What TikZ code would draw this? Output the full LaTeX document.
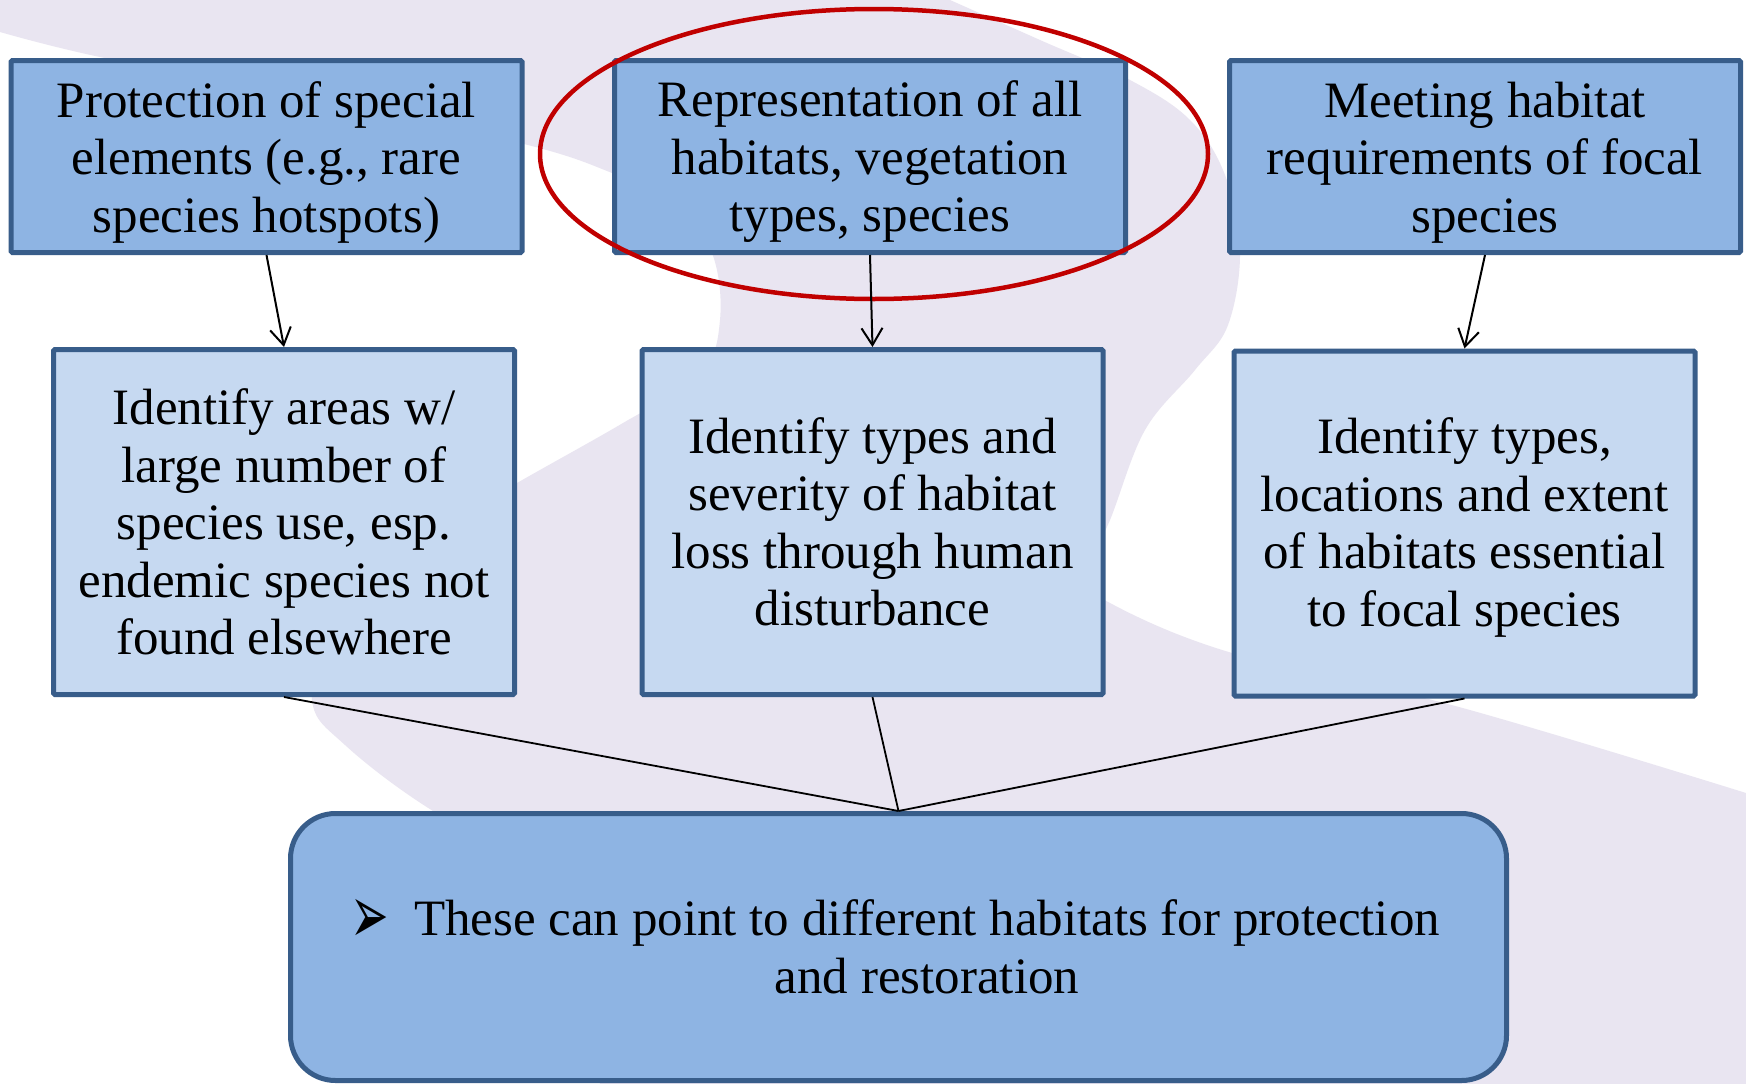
\documentclass[tikz,border=0pt]{standalone}
\usepackage{fontspec}
\setmainfont{Liberation Serif}
\newfontfamily\dejavu{DejaVu Sans}
\usetikzlibrary{arrows.meta,shapes.geometric}
\definecolor{bgl}{RGB}{233,229,241}
\definecolor{bord}{RGB}{56,93,138}
\definecolor{topfill}{RGB}{142,180,227}
\definecolor{midfill}{RGB}{198,217,241}
\definecolor{ovalred}{RGB}{192,0,0}
\newcommand{\upstrut}[1]{\rule{0pt}{#1}}
\begin{document}
\begin{tikzpicture}[x=1pt,y=-1pt,
  box/.style={draw=bord, line width=5pt, rounded corners=1.5pt, align=center, inner sep=0pt,
              font=\fontsize{51}{57.5}\selectfont},
  topbox/.style={box, fill=topfill, minimum width=511pt, minimum height=192pt},
  midbox/.style={box, fill=midfill, minimum width=461pt, minimum height=345pt},
  arr/.style={line width=2pt, -{Straight Barb[length=17pt,width=21pt,line width=2pt]}},
  link/.style={line width=1.8pt}
]
\useasboundingbox (0,0) rectangle (1746,1084);
\fill[white] (0,0) rectangle (1746,1084);
% background swoosh
\fill[bgl] (0,0) -- (950,0) -- plot[smooth, tension=0.6] coordinates {(950,0) (1040,40) (1130,80) (1190,120) (1225,175) (1240,250) (1228,325) (1195,370) (1145,430) (1110,520) (1085,575) (1110,603) (1232,653) (1459,707) (1746,793)}
  -- (1746,1084) -- (600,1084)
  -- plot[smooth, tension=0.6] coordinates {(600,1084) (560,880) (433,811) (345,745) (312,700) (330,620) (410,545) (517,483) (623,423) (700,375) (720,320) (712,253) (675,205) (612,173) (520,143) (300,95) (100,57) (0,32)}
  -- cycle;

% top row
\node[topbox] (t1) at (266.5,156.5) {\upstrut{47pt}Protection of special\\elements (e.g., rare\\species hotspots)};
\node[topbox] (t2) at (870,156.5) {\upstrut{47pt}Representation of all\\habitats, vegetation\\types, species};
\node[topbox] (t3) at (1485,156.5) {\upstrut{47pt}Meeting habitat\\requirements of focal\\species};
% middle row
\node[midbox] (m1) at (284,522) {Identify areas w/\\large number of\\species use, esp.\\endemic species not\\found elsewhere};
\node[midbox] (m2) at (872.5,522) {Identify types and\\severity of habitat\\loss through human\\disturbance};
\node[midbox] (m3) at (1464.5,523.5) {\upstrut{44pt}Identify types,\\locations and extent\\of habitats essential\\to focal species};
% bottom box
\node[box, fill=topfill, rounded corners=45pt, minimum width=1216pt, minimum height=267pt] (b) at (898.5,947)
  {\hspace*{57pt}\parbox[c]{1100pt}{\centering These can point to different habitats for protection\\ and restoration}};
\node[inner sep=0pt, font=\dejavu\fontsize{46}{46}\selectfont] (bul) at (370,921) {\scalebox{1}[1.8]{➢}};

% highlight oval
\node[draw=ovalred, ellipse, line width=4.5pt, minimum width=668pt, minimum height=290pt, inner sep=0pt] (oval) at (874,154) {};

% connectors
\draw[arr] (t1.south) -- (m1.north);
\draw[arr] (t2.south) -- (m2.north);
\draw[arr] (t3.south) -- (m3.north);
\draw[link] (m1.south) -- (b.north);
\draw[link] (m2.south) -- (b.north);
\draw[link] (m3.south) -- (b.north);
\end{tikzpicture}
\end{document}
